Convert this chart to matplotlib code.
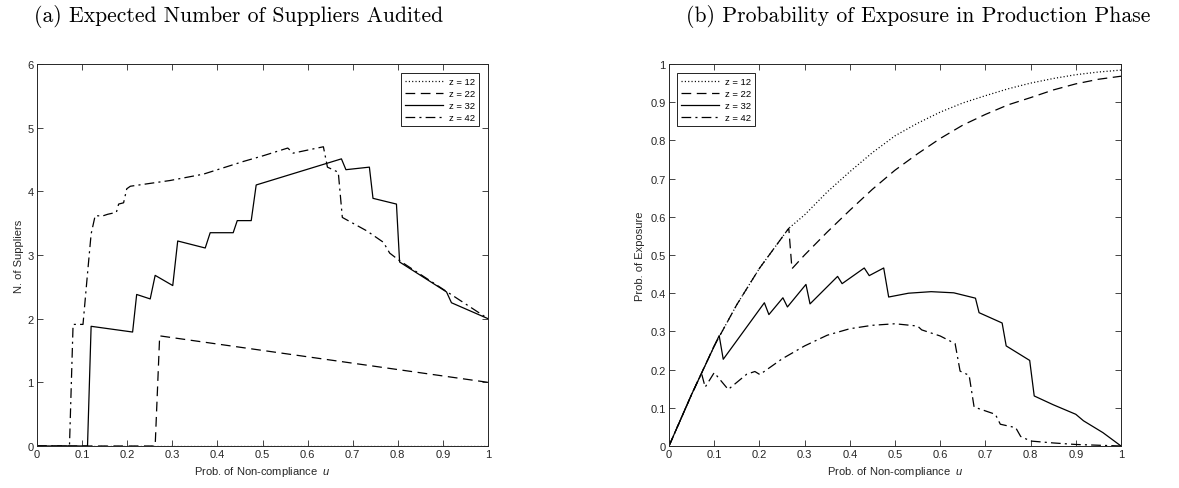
import matplotlib
matplotlib.use("Agg")
import matplotlib.pyplot as plt
from matplotlib.ticker import FormatStrFormatter, MultipleLocator

# ---------------- data ----------------
labels = ["z = 12", "z = 22", "z = 32", "z = 42"]

# Panel (a): expected number of suppliers audited
a_z12_u = [0.0, 1.0]
a_z12_y = [0.0, 0.0]

a_z22_u = [0.0, 0.262, 0.272, 1.0]
a_z22_y = [0.0, 0.0, 1.73, 1.0]

a_z32_u = [0.0, 0.112, 0.120, 0.212, 0.221, 0.251, 0.262, 0.301, 0.312, 0.373,
           0.384, 0.435, 0.444, 0.475, 0.486, 0.675, 0.685, 0.737, 0.745, 0.797,
           0.804, 0.908, 0.919, 1.0]
a_z32_y = [0.0, 0.0, 1.88, 1.79, 2.38, 2.31, 2.68, 2.52, 3.22, 3.11,
           3.35, 3.35, 3.54, 3.54, 4.10, 4.51, 4.34, 4.38, 3.89, 3.80,
           2.89, 2.42, 2.25, 2.0]

a_z42_u = [0.0, 0.072, 0.080, 0.102, 0.111, 0.120, 0.129, 0.144, 0.157, 0.176,
           0.181, 0.192, 0.199, 0.207, 0.295, 0.369, 0.458, 0.502, 0.556, 0.568,
           0.635, 0.644, 0.668, 0.677, 0.731, 0.768, 0.782, 0.804, 1.0]
a_z42_y = [0.0, 0.0, 1.91, 1.91, 2.63, 3.33, 3.62, 3.61, 3.64, 3.67,
           3.80, 3.82, 4.04, 4.08, 4.17, 4.27, 4.47, 4.56, 4.68, 4.60,
           4.70, 4.38, 4.30, 3.59, 3.38, 3.20, 3.03, 2.91, 2.0]

# Panel (b): probability of exposure in production phase
b_z12_u = [0.0, 0.05, 0.1, 0.15, 0.2, 0.265, 0.3, 0.35, 0.4, 0.45, 0.5, 0.55,
           0.6, 0.65, 0.7, 0.75, 0.8, 0.85, 0.9, 0.95, 1.0]
b_z12_y = [0.0, 0.135, 0.262, 0.37, 0.465, 0.57, 0.605, 0.665, 0.718, 0.768, 0.812, 0.845,
           0.874, 0.898, 0.917, 0.935, 0.950, 0.962, 0.972, 0.979, 0.984]

b_z22_u = [0.0, 0.05, 0.1, 0.15, 0.2, 0.265, 0.272, 0.3, 0.35, 0.4, 0.45, 0.5,
           0.55, 0.6, 0.65, 0.7, 0.75, 0.8, 0.85, 0.9, 0.95, 1.0]
b_z22_y = [0.0, 0.135, 0.262, 0.37, 0.465, 0.57, 0.464, 0.50, 0.56, 0.617, 0.672, 0.722,
           0.765, 0.805, 0.84, 0.868, 0.893, 0.912, 0.932, 0.948, 0.96, 0.968]

b_z32_u = [0.0, 0.05, 0.111, 0.120, 0.211, 0.221, 0.252, 0.262, 0.303, 0.312,
           0.373, 0.383, 0.432, 0.443, 0.475, 0.486, 0.53, 0.58, 0.63, 0.678,
           0.686, 0.737, 0.746, 0.798, 0.808, 0.85, 0.9, 0.917, 0.96, 1.0]
b_z32_y = [0.0, 0.135, 0.289, 0.227, 0.375, 0.344, 0.388, 0.364, 0.423, 0.372,
           0.444, 0.425, 0.466, 0.446, 0.466, 0.390, 0.400, 0.404, 0.401, 0.387,
           0.349, 0.322, 0.262, 0.224, 0.131, 0.108, 0.083, 0.066, 0.035, 0.0]

b_z42_u = [0.0, 0.05, 0.072, 0.080, 0.100, 0.131, 0.172, 0.190, 0.201, 0.25,
           0.3, 0.35, 0.4, 0.45, 0.5, 0.55, 0.559, 0.6, 0.633, 0.644,
           0.664, 0.675, 0.722, 0.733, 0.767, 0.778, 0.8, 0.85, 0.9, 0.95, 1.0]
b_z42_y = [0.0, 0.135, 0.19, 0.154, 0.192, 0.148, 0.188, 0.195, 0.187, 0.228,
           0.262, 0.29, 0.307, 0.316, 0.32, 0.314, 0.304, 0.288, 0.268, 0.196,
           0.185, 0.102, 0.083, 0.057, 0.048, 0.025, 0.013, 0.008, 0.004, 0.002, 0.0]

# ---------------- style ----------------
plt.rcParams["font.family"] = ["Liberation Sans", "DejaVu Sans"]
plt.rcParams["mathtext.fontset"] = "custom"
plt.rcParams["mathtext.it"] = "Liberation Sans:italic"
plt.rcParams["mathtext.rm"] = "Liberation Sans"
plt.rcParams["lines.scale_dashes"] = False

W, H = 1179, 489
fig = plt.figure(figsize=(W / 100, H / 100), dpi=100)

axcol = "#262626"
styles = [
    dict(linestyle=(0, (0.8, 1.6))),
    dict(linestyle=(0, (7, 4))),
    dict(linestyle="-"),
    dict(linestyle=(0, (7, 3, 1.5, 3))),
]


def setup(ax, ymax, ystep, yfmt):
    ax.set_xlim(0, 1)
    ax.set_ylim(0, ymax)
    ax.xaxis.set_major_locator(MultipleLocator(0.1))
    ax.yaxis.set_major_locator(MultipleLocator(ystep))
    ax.xaxis.set_major_formatter(FormatStrFormatter("%g"))
    ax.yaxis.set_major_formatter(FormatStrFormatter(yfmt))
    ax.tick_params(direction="in", length=4, width=0.6, top=True, right=True,
                   labelsize=8, colors=axcol, pad=2.5)
    for s in ax.spines.values():
        s.set_linewidth(0.7)
        s.set_color(axcol)
    ax.set_xlabel("Prob. of Non-compliance  $u$", fontsize=8, color=axcol, labelpad=3)


# Panel (a)
axa = fig.add_axes([37 / W, 1 - 447 / H, 451 / W, 382 / H])
setup(axa, 6, 1, "%g")
axa.set_ylabel("N. of Suppliers", fontsize=8, color=axcol, labelpad=2.5)
for (u, y), lab, st in zip([(a_z12_u, a_z12_y), (a_z22_u, a_z22_y),
                             (a_z32_u, a_z32_y), (a_z42_u, a_z42_y)], labels, styles):
    axa.plot(u, y, color="black", lw=0.9, label=lab, **st)
leg = axa.legend(loc="upper right", bbox_to_anchor=(0.981, 0.976), fontsize=6.8,
                 fancybox=False, edgecolor="black", framealpha=1,
                 handlelength=4.0, labelspacing=0.3, borderpad=0.45,
                 handletextpad=0.6, borderaxespad=0)
leg.get_frame().set_linewidth(0.6)

# Panel (b)
axb = fig.add_axes([669 / W, 1 - 447 / H, 452 / W, 382 / H])
setup(axb, 1, 0.1, "%g")
axb.set_ylabel("Prob. of Exposure", fontsize=8, color=axcol, labelpad=4)
for (u, y), lab, st in zip([(b_z12_u, b_z12_y), (b_z22_u, b_z22_y),
                             (b_z32_u, b_z32_y), (b_z42_u, b_z42_y)], labels, styles):
    axb.plot(u, y, color="black", lw=0.9, label=lab, **st)
leg = axb.legend(loc="upper left", bbox_to_anchor=(0.018, 0.976), fontsize=6.8,
                 fancybox=False, edgecolor="black", framealpha=1,
                 handlelength=4.0, labelspacing=0.3, borderpad=0.45,
                 handletextpad=0.6, borderaxespad=0)
leg.get_frame().set_linewidth(0.6)

# Titles
fig.text(239 / W, 1 - 16 / H, "(a) Expected Number of Suppliers Audited",
         family="cmr10", fontsize=15.6, ha="center", va="center")
fig.text(918 / W, 1 - 16 / H, "(b) Probability of Exposure in Production Phase",
         family="cmr10", fontsize=15.6, ha="center", va="center")

fig.savefig("out.png", dpi=100)
